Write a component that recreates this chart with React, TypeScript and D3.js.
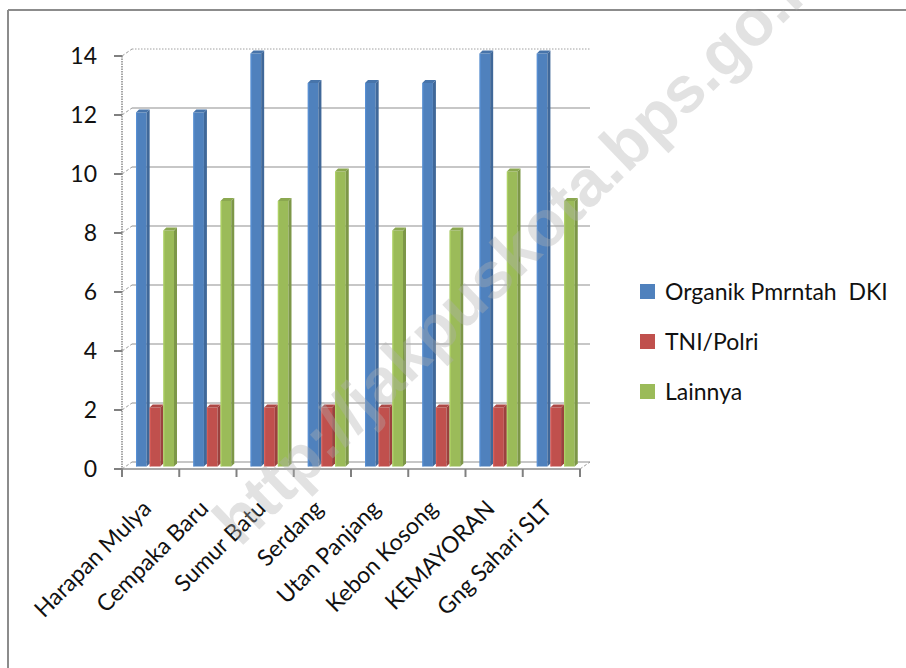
import React from "react";
import * as d3 from "d3";

const categories = [
  "Harapan Mulya",
  "Cempaka Baru",
  "Sumur Batu",
  "Serdang",
  "Utan Panjang",
  "Kebon Kosong",
  "KEMAYORAN",
  "Gng Sahari SLT",
];
const organik = [12, 12, 14, 13, 13, 13, 14, 14];
const tniPolri = [2, 2, 2, 2, 2, 2, 2, 2];
const lainnya = [8, 9, 9, 10, 8, 8, 10, 9];
const seriesNames = ["Organik Pmrntah  DKI", "TNI/Polri", "Lainnya"];
const seriesColors = ["#4F81BD", "#C0504D", "#9BBB59"];
const yTicks = [0, 2, 4, 6, 8, 10, 12, 14];
const watermark = "http://jakpuskota.bps.go.id";

const W = 906;
const H = 668;
const FONT = "Lato, 'Open Sans', sans-serif";

const seriesData = [organik, tniPolri, lainnya];

export default function App() {
  const x0 = 122;
  const x1 = 580;
  const DX = 10;
  const DY = -7;
  const yFront = d3.scaleLinear().domain([0, 14]).range([469, 56]);
  const yBack = (v: number) => yFront(v) + DY;
  const yBar = (v: number) => yFront(v) + DY / 2 + 1;
  const xBand = d3.scaleBand<string>().domain(categories).range([x0, x1]).padding(0);
  const sub = d3.scaleBand<number>().domain([0, 1, 2]).range([14, 55]).padding(0);
  const bw = sub.bandwidth();
  const side = 3;

  const shade = (c: string, k: number) => {
    const col = d3.color(c)!;
    return k > 0 ? col.brighter(k).formatHex() : col.darker(-k).formatHex();
  };

  return (
    <svg
      width={W}
      height={H}
      style={{ position: "fixed", left: 0, top: 0, background: "#fff" }}
      fontFamily={FONT}
    >
      <rect x={0} y={0} width={W} height={H} fill="#fff" />
      {/* chart border */}
      <line x1={8} y1={10} x2={W} y2={10} stroke="#8c8c8c" strokeWidth={2} />
      <line x1={8} y1={10} x2={8} y2={H} stroke="#8c8c8c" strokeWidth={2} />

      {/* back wall gridlines */}
      {yTicks.map((t) => (
        <g key={"g" + t}>
          <line
            x1={x0 + DX}
            x2={x1 + DX}
            y1={yBack(t)}
            y2={yBack(t)}
            stroke={t === 14 ? "#a0a0a0" : "#8f8f8f"}
            strokeWidth={t === 14 ? 1 : 1.2}
            strokeDasharray={t === 14 ? "1.5 1.5" : undefined}
          />
          <line
            x1={x0}
            x2={x0 + DX}
            y1={yFront(t)}
            y2={yBack(t)}
            stroke="#9a9a9a"
            strokeWidth={1}
            strokeDasharray="3 2"
          />
        </g>
      ))}
      {/* right floor edge */}
      <line x1={x1} y1={yFront(0)} x2={x1 + DX} y2={yBack(0)} stroke="#9a9a9a" strokeDasharray="3 2" />

      {/* bars */}
      {categories.map((c, i) => (
        <g key={c}>
          {seriesData.map((arr, s) => {
            const v = arr[i];
            const bx = (xBand(c) as number) + (sub(s) as number);
            const yt = yBar(v);
            const yb = yBar(0);
            const col = seriesColors[s];
            const fw = bw - side;
            return (
              <g key={s}>
                <rect x={bx} y={yt} width={fw} height={yb - yt} fill={col} />
                <polygon
                  points={`${bx + fw},${yt} ${bx + fw + side},${yt - side} ${bx + fw + side},${yb - side} ${bx + fw},${yb}`}
                  fill={shade(col, -0.6)}
                />
                <polygon
                  points={`${bx},${yt} ${bx + side},${yt - side} ${bx + fw + side},${yt - side} ${bx + fw},${yt}`}
                  fill={shade(col, -0.3)}
                />
                <rect x={bx} y={yt} width={1.2} height={yb - yt} fill={shade(col, 0.5)} opacity={0.6} />
              </g>
            );
          })}
        </g>
      ))}

      {/* front axes */}
      <line x1={x0} x2={x0} y1={yFront(14)} y2={yFront(0)} stroke="#8a8a8a" strokeWidth={1.5} strokeDasharray="1.5 1" />
      <line x1={x0} x2={x1} y1={yFront(0)} y2={yFront(0)} stroke="#8a8a8a" strokeWidth={1.5} />
      {yTicks.map((t) => (
        <g key={"t" + t}>
          <line x1={x0 - 8} x2={x0} y1={yFront(t)} y2={yFront(t)} stroke="#808080" strokeWidth={2} />
          <text x={97} y={yFront(t) + 8} textAnchor="end" fontSize={23} fill="#111">
            {t}
          </text>
        </g>
      ))}
      {categories.map((c, i) => (
        <line
          key={"xt" + i}
          x1={xBand(c) as number}
          x2={xBand(c) as number}
          y1={yFront(0)}
          y2={yFront(0) + 8}
          stroke="#808080"
          strokeWidth={2}
        />
      ))}
      <line x1={x1} x2={x1} y1={yFront(0)} y2={yFront(0) + 8} stroke="#808080" strokeWidth={2} />

      {/* category labels */}
      {categories.map((c) => {
        const cx = (xBand(c) as number) + xBand.bandwidth() / 2 + 2;
        const cy = 510;
        return (
          <text
            key={"l" + c}
            x={cx}
            y={cy}
            textAnchor="end"
            fontSize={23}
            fill="#111"
            transform={`rotate(-45 ${cx} ${cy})`}
          >
            {c}
          </text>
        );
      })}

      {/* legend */}
      {seriesNames.map((n, i) => (
        <g key={n} transform={`translate(640, ${292 + i * 50})`}>
          <rect x={0} y={-8} width={15} height={15} fill={seriesColors[i]} />
          <text x={25} y={8} fontSize={23} fill="#111" style={{ whiteSpace: "pre" }}>
            {n}
          </text>
        </g>
      ))}

      {/* watermark */}
      <text
        x={240}
        y={548}
        transform="rotate(-44 240 548)"
        fontFamily="'Liberation Sans', Arial, sans-serif"
        fontWeight="bold"
        fontSize={65}
        fill="#b0b0b0"
        opacity={0.36}
      >
        {watermark}
      </text>
    </svg>
  );
}
